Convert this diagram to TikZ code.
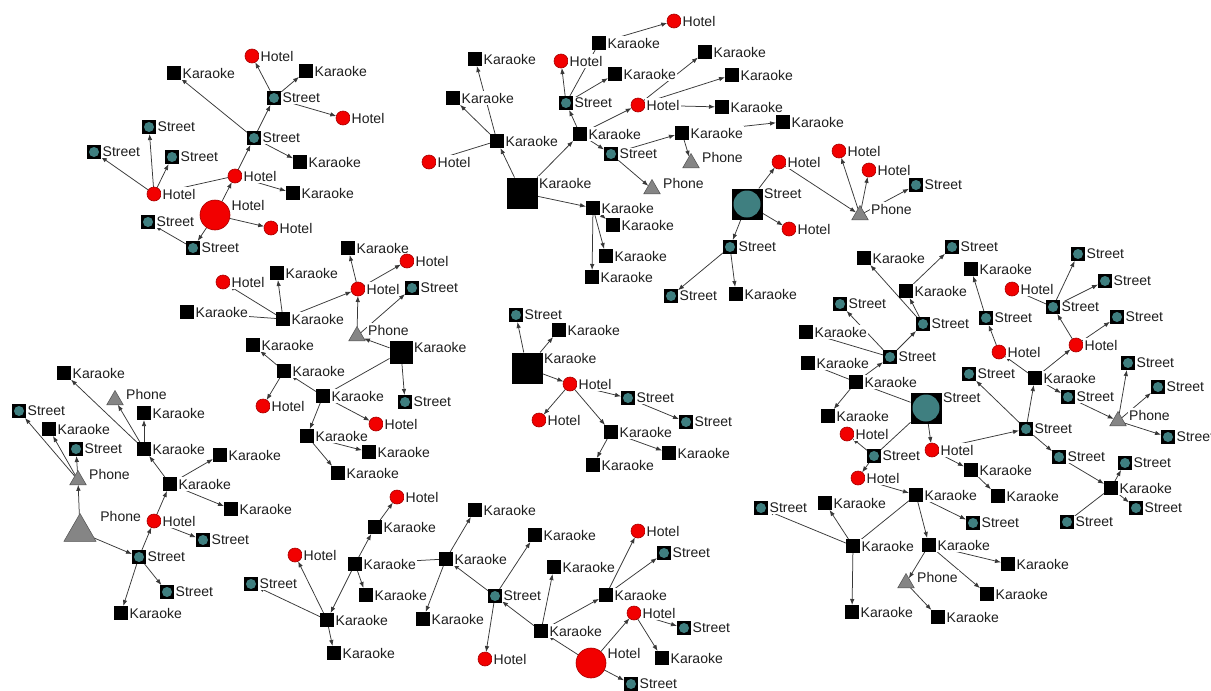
\documentclass[tikz,border=0pt]{standalone}
\usepackage{fontspec}
\newfontfamily\lblfamily{Liberation Sans}
\usetikzlibrary{shapes.geometric,arrows.meta}
\pgfdeclarelayer{paper}
\pgfdeclarelayer{wires}
\pgfsetlayers{paper,wires,main}

\definecolor{streetfill}{HTML}{3F7F80}
\definecolor{hotelfill}{HTML}{F20000}
\definecolor{hotelrim}{HTML}{A80000}
\definecolor{phonefill}{HTML}{858585}
\definecolor{phonerim}{HTML}{505050}
\definecolor{labeltext}{HTML}{1E1E1E}
\definecolor{wirecol}{HTML}{383838}

\begin{document}
\begin{tikzpicture}[x=1pt,y=-1pt,
  lbl/.style={font=\lblfamily\fontsize{14}{16}\selectfont, text=labeltext, fill=white, inner sep=1.5pt},
  % Karaoke: black square
  karsh/.style={rectangle, fill=black, inner sep=0pt, outer sep=0pt},
  kar/.style={karsh, minimum size=14pt, label={[lbl]0:Karaoke}},
  karmid/.style={karsh, minimum size=23pt, label={[lbl,yshift=5pt]0:Karaoke}},
  karbig/.style={karsh, minimum size=31pt, label={[lbl,yshift=10pt]0:Karaoke}},
  % Street: black square holding a teal disc
  strsh/.style={rectangle, fill=black, inner sep=0pt, outer sep=0pt,
    path picture={\fill[streetfill] (path picture bounding box.center) circle[radius=#1];}},
  str/.style={strsh=5pt, minimum size=14pt, label={[lbl]0:Street}},
  strbig/.style={strsh=13.5pt, minimum size=31pt, label={[lbl,yshift=10pt]0:Street}},
  % Hotel: red disc
  hotsh/.style={circle, fill=hotelfill, draw=hotelrim, line width=0.6pt, inner sep=0pt, outer sep=0pt},
  hot/.style={hotsh, minimum size=14pt, label={[lbl]0:Hotel}},
  hotbig/.style={hotsh, minimum size=30pt, label={[lbl,yshift=10pt]0:Hotel}},
  % Phone: grey triangle
  phosh/.style={regular polygon, regular polygon sides=3, fill=phonefill, draw=phonerim, line width=0.5pt, inner sep=0pt, outer sep=0pt},
  pho/.style={phosh, minimum size=19pt, label={[lbl,xshift=4pt,yshift=6pt]0:Phone}},
  phobig/.style={phosh, minimum size=37pt, label={[lbl,xshift=8pt,yshift=16pt]0:Phone}},
  arr/.style={draw=wirecol, line width=0.75pt, -{Latex[length=6pt,width=4.5pt]}},
  link/.style={draw=wirecol, line width=0.75pt}
]
\useasboundingbox (0,0) rectangle (1211,691);
\begin{pgfonlayer}{paper}
  \fill[white] (0,0) rectangle (1211,691);
\end{pgfonlayer}

% ---------- group around the large hotel (top left)
\node[hot] (a_h1) at (252,56) {};
\node[kar] (a_k1) at (174,73) {};
\node[kar] (a_k2) at (306,71) {};
\node[str] (a_s1) at (274,98) {};
\node[hot] (a_h2) at (343,118) {};
\node[str] (a_s2) at (254,138) {};
\node[str] (a_s3) at (149,127) {};
\node[str] (a_s4) at (94,152) {};
\node[str] (a_s5) at (172,157) {};
\node[kar] (a_k3) at (300,162) {};
\node[hot] (a_h3) at (235,176) {};
\node[hot] (a_h4) at (154,194) {};
\node[kar] (a_k4) at (293,193) {};
\node[hotbig] (a_hb) at (215,215) {};
\node[hot] (a_h5) at (271,228) {};
\node[str] (a_s6) at (148,222) {};
\node[str] (a_s7) at (193,248) {};

% ---------- group around the large karaoke (top middle)
\node[hot] (b_h6) at (674,21) {};
\node[kar] (b_k5) at (599,43) {};
\node[kar] (b_k6) at (475,59) {};
\node[hot] (b_h7) at (561,61) {};
\node[kar] (b_k7) at (615,74) {};
\node[kar] (b_k8) at (705,52) {};
\node[kar] (b_k9) at (732,75) {};
\node[str] (b_s8) at (566,103) {};
\node[hot] (b_h8) at (638,105) {};
\node[kar] (b_k10) at (722,107) {};
\node[kar] (b_k11) at (783,122) {};
\node[kar] (b_k12) at (453,98) {};
\node[kar] (b_k13) at (497,141) {};
\node[kar] (b_k14) at (580,134) {};
\node[hot] (b_h9) at (429,162) {};
\node[str] (b_s9) at (611,154) {};
\node[kar] (b_k15) at (682,133) {};
\node[pho] (b_p1) at (691,163) {};
\node[pho] (b_p2) at (652,189) {};
\node[karbig] (b_kb) at (522,193) {};
\node[kar] (b_k16) at (593,208) {};
\node[kar] (b_k17) at (613,225) {};
\node[kar] (b_k18) at (606,256) {};
\node[kar] (b_k19) at (592,277) {};

% ---------- group around the large street (top right)
\node[strbig] (c_sb) at (747,204) {};
\node[hot] (c_h10) at (779,162) {};
\node[hot] (c_h11) at (789,229) {};
\node[str] (c_s10) at (730,247) {};
\node[kar] (c_k20) at (736,294) {};
\node[str] (c_s12) at (671,296) {};
\node[hot] (c_h12) at (839,151) {};
\node[hot] (c_h13) at (869,170) {};
\node[pho] (c_p3) at (860,215) {};
\node[str] (c_s11) at (916,185) {};

% ---------- middle left group
\node[kar] (d_k22) at (348,248) {};
\node[hot] (d_h14) at (407,261) {};
\node[hot] (d_h15) at (358,289) {};
\node[str] (d_s13) at (412,288) {};
\node[hot] (d_h16) at (223,282) {};
\node[kar] (d_k23) at (277,273) {};
\node[kar] (d_k24) at (187,312) {};
\node[kar] (d_k25) at (283,319) {};
\node[pho] (d_p4) at (357,336) {};
\node[karmid] (d_kb) at (401,352) {};
\node[kar] (d_k26) at (253,345) {};
\node[kar] (d_k27) at (284,371) {};
\node[kar] (d_k28) at (323,396) {};
\node[hot] (d_h17) at (263,406) {};
\node[str] (d_s14) at (405,402) {};
\node[hot] (d_h18) at (376,424) {};
\node[kar] (d_k29) at (307,436) {};
\node[kar] (d_k30) at (369,452) {};
\node[kar] (d_k31) at (338,473) {};

% ---------- group around the large phone (bottom left)
\node[kar] (e_k32) at (64,373) {};
\node[pho] (e_p5) at (115,400) {};
\node[str] (e_s15) at (19,411) {};
\node[kar] (e_k33) at (144,413) {};
\node[kar] (e_k34) at (49,429) {};
\node[str] (e_s16) at (76,449) {};
\node[kar] (e_k35) at (144,449) {};
\node[kar] (e_k36) at (220,455) {};
\node[pho] (e_p6) at (78,480) {};
\node[kar] (e_k37) at (170,484) {};
\node[kar] (e_k38) at (231,509) {};
\node[hot] (e_h19) at (154,521) {};
\node[str] (e_s17) at (203,540) {};
\node[phobig] (e_pb) at (80,532) {};
\node[str] (e_s18) at (139,557) {};
\node[str] (e_s19) at (167,592) {};
\node[kar] (e_k39) at (121,613) {};

% ---------- centre group
\node[str] (f_s20) at (516,315) {};
\node[kar] (f_k40) at (559,330) {};
\node[karbig] (f_kb) at (527,368) {};
\node[hot] (f_h20) at (570,384) {};
\node[str] (f_s21) at (628,398) {};
\node[str] (f_s22) at (686,422) {};
\node[hot] (f_h21) at (539,420) {};
\node[kar] (f_k41) at (611,432) {};
\node[kar] (f_k42) at (669,453) {};
\node[kar] (f_k43) at (593,465) {};

% ---------- right group
\node[str] (g_s23) at (952,247) {};
\node[kar] (g_k44) at (864,258) {};
\node[kar] (g_k45) at (971,269) {};
\node[str] (g_s24) at (1078,254) {};
\node[str] (g_s25) at (1105,281) {};
\node[hot] (g_h22) at (1012,289) {};
\node[kar] (g_k46) at (906,291) {};
\node[str] (g_s26) at (840,304) {};
\node[str] (g_s27) at (1053,307) {};
\node[str] (g_s28) at (1117,317) {};
\node[str] (g_s29) at (923,324) {};
\node[str] (g_s30) at (986,318) {};
\node[kar] (g_k47) at (806,332) {};
\node[hot] (g_h23) at (999,352) {};
\node[hot] (g_h24) at (1076,345) {};
\node[str] (g_s31) at (890,357) {};
\node[kar] (g_k48) at (808,363) {};
\node[str] (g_s32) at (1128,363) {};
\node[str] (g_s33) at (969,374) {};
\node[kar] (g_k49) at (1035,378) {};
\node[kar] (g_k50) at (856,382) {};
\node[str] (g_s34) at (1158,387) {};
\node[str] (g_s35) at (1068,397) {};
\node[strbig] (g_sb) at (926,408) {};
\node[kar] (g_k51) at (828,416) {};
\node[pho] (g_p7) at (1118,421) {};
\node[str] (g_s36) at (1168,437) {};
\node[str] (g_s37) at (1026,429) {};
\node[hot] (g_h25) at (847,434) {};
\node[str] (g_s38) at (874,456) {};
\node[hot] (g_h26) at (932,450) {};
\node[str] (g_s39) at (1059,457) {};
\node[str] (g_s40) at (1125,463) {};
\node[kar] (g_k52) at (971,470) {};
\node[hot] (g_h27) at (858,478) {};
\node[kar] (g_k53) at (998,496) {};
\node[kar] (g_k54) at (1111,488) {};
\node[str] (g_s41) at (1136,508) {};
\node[str] (g_s42) at (1067,522) {};
\node[kar] (g_k55) at (916,495) {};
\node[str] (g_s43) at (761,508) {};
\node[kar] (g_k56) at (825,503) {};
\node[str] (g_s44) at (973,523) {};
\node[kar] (g_k57) at (853,546) {};
\node[kar] (g_k58) at (929,545) {};
\node[kar] (g_k59) at (1008,564) {};
\node[pho] (g_p8) at (906,583) {};
\node[kar] (g_k60) at (987,594) {};
\node[kar] (g_k61) at (852,612) {};
\node[kar] (g_k62) at (938,617) {};

% ---------- bottom middle group
\node[hot] (h_h28) at (397,497) {};
\node[kar] (h_k63) at (375,527) {};
\node[kar] (h_k64) at (475,510) {};
\node[hot] (h_h29) at (295,555) {};
\node[str] (h_s45) at (251,584) {};
\node[kar] (h_k65) at (355,564) {};
\node[kar] (h_k66) at (446,559) {};
\node[kar] (h_k67) at (366,595) {};
\node[str] (h_s46) at (495,596) {};
\node[kar] (h_k68) at (327,620) {};
\node[kar] (h_k69) at (423,619) {};
\node[kar] (h_k70) at (541,631) {};
\node[kar] (h_k71) at (334,653) {};
\node[hot] (h_h30) at (485,659) {};
\node[kar] (h_k72) at (535,535) {};
\node[kar] (h_k73) at (554,567) {};
\node[hot] (h_h31) at (638,531) {};
\node[str] (h_s47) at (664,553) {};
\node[kar] (h_k74) at (606,595) {};
\node[hot] (h_h32) at (634,613) {};
\node[str] (h_s48) at (684,628) {};
\node[kar] (h_k75) at (662,658) {};
\node[hotbig] (h_hb) at (591,663) {};
\node[str] (h_s49) at (631,684) {};

\begin{pgfonlayer}{wires}
% top left
\draw[arr] (a_s1) -- (a_h1);
\draw[arr] (a_s1) -- (a_k2);
\draw[arr] (a_s1) -- (a_h2);
\draw[arr] (a_s2) -- (a_k1);
\draw[arr] (a_s2) -- (a_s1);
\draw[arr] (a_s2) -- (a_k3);
\draw[arr] (a_h3) -- (a_s2);
\draw[arr] (a_h3) -- (a_k4);
\draw[link] (a_h4) -- (a_h3);
\draw[arr] (a_h4) -- (a_s4);
\draw[arr] (a_h4) -- (a_s3);
\draw[arr] (a_h4) -- (a_s5);
\draw[arr] (a_hb) -- (a_h3);
\draw[arr] (a_hb) -- (a_h5);
\draw[arr] (a_hb) -- (a_s7);
\draw[arr] (a_s7) -- (a_s6);
% top middle
\draw[arr] (b_kb) -- (b_k13);
\draw[arr] (b_kb) -- (b_k14);
\draw[arr] (b_kb) -- (b_k16);
\draw[arr] (b_k13) -- (b_k6);
\draw[arr] (b_k13) -- (b_k12);
\draw[link] (b_k13) -- (b_h9);
\draw[arr] (b_k14) -- (b_s8);
\draw[arr] (b_s8) -- (b_h7);
\draw[link] (b_k5) -- (b_s8);
\draw[arr] (b_s8) -- (b_k7);
\draw[arr] (b_k5) -- (b_h6);
\draw[arr] (b_k14) -- (b_h8);
\draw[arr] (b_h8) -- (b_k8);
\draw[arr] (b_h8) -- (b_k9);
\draw[arr] (b_h8) -- (b_k10);
\draw[arr] (b_k14) -- (b_s9);
\draw[arr] (b_s9) -- (b_p2);
\draw[arr] (b_s9) -- (b_k15);
\draw[arr] (b_k15) -- (b_p1);
\draw[arr] (b_k15) -- (b_k11);
\draw[arr] (b_k16) -- (b_k17);
\draw[arr] (b_k16) -- (b_k18);
\draw[arr] (b_k16) -- (b_k19);
% top right
\draw[arr] (c_sb) -- (c_h10);
\draw[arr] (c_sb) -- (c_h11);
\draw[arr] (c_sb) -- (c_s10);
\draw[arr] (c_h10) -- (c_p3);
\draw[arr] (c_p3) -- (c_h12);
\draw[arr] (c_p3) -- (c_h13);
\draw[arr] (c_p3) -- (c_s11);
\draw[arr] (c_s10) -- (c_k20);
\draw[arr] (c_s10) -- (c_s12);
% middle left
\draw[arr] (d_k25) -- (d_h16);
\draw[arr] (d_k25) -- (d_k23);
\draw[link] (d_k25) -- (d_k24);
\draw[arr] (d_k25) -- (d_h15);
\draw[arr] (d_h15) -- (d_k22);
\draw[arr] (d_h15) -- (d_h14);
\draw[arr] (d_p4) -- (d_h15);
\draw[arr] (d_p4) -- (d_s13);
\draw[arr] (d_kb) -- (d_p4);
\draw[arr] (d_kb) -- (d_s14);
\draw[link] (d_kb) -- (d_k28);
\draw[arr] (d_k28) -- (d_k27);
\draw[arr] (d_k27) -- (d_k26);
\draw[arr] (d_k27) -- (d_h17);
\draw[arr] (d_k28) -- (d_h18);
\draw[arr] (d_k28) -- (d_k29);
\draw[arr] (d_k29) -- (d_k30);
\draw[arr] (d_k29) -- (d_k31);
% bottom left
\draw[arr] (e_pb) -- (e_p6);
\draw[arr] (e_p6) -- (e_s16);
\draw[arr] (e_p6) -- (e_k34);
\draw[arr] (e_p6) -- (e_s15);
\draw[arr] (e_pb) -- (e_s18);
\draw[arr] (e_s18) -- (e_h19);
\draw[arr] (e_s18) -- (e_s19);
\draw[arr] (e_s18) -- (e_k39);
\draw[arr] (e_h19) -- (e_s17);
\draw[arr] (e_h19) -- (e_k37);
\draw[arr] (e_k37) -- (e_k35);
\draw[arr] (e_k37) -- (e_k36);
\draw[arr] (e_k37) -- (e_k38);
\draw[arr] (e_k35) -- (e_k33);
\draw[arr] (e_k35) -- (e_p5);
\draw[arr] (e_k35) -- (e_k32);
% centre
\draw[arr] (f_kb) -- (f_s20);
\draw[arr] (f_kb) -- (f_k40);
\draw[arr] (f_kb) -- (f_h20);
\draw[arr] (f_h20) -- (f_s21);
\draw[arr] (f_s21) -- (f_s22);
\draw[arr] (f_h20) -- (f_h21);
\draw[arr] (f_h20) -- (f_k41);
\draw[arr] (f_k41) -- (f_k42);
\draw[arr] (f_k41) -- (f_k43);
% right
\draw[arr] (g_s29) -- (g_k44);
\draw[arr] (g_s29) -- (g_k46);
\draw[arr] (g_k46) -- (g_s23);
\draw[arr] (g_s31) -- (g_s29);
\draw[arr] (g_s31) -- (g_s26);
\draw[arr] (g_s31) -- (g_k47);
\draw[arr] (g_k50) -- (g_s31);
\draw[arr] (g_k50) -- (g_k48);
\draw[arr] (g_k50) -- (g_k51);
\draw[arr] (g_sb) -- (g_k50);
\draw[arr] (g_sb) -- (g_h26);
\draw[link] (g_sb) -- (g_s38);
\draw[arr] (g_s38) -- (g_h25);
\draw[arr] (g_s38) -- (g_h27);
\draw[arr] (g_h26) -- (g_k52);
\draw[arr] (g_h26) -- (g_s37);
\draw[arr] (g_s37) -- (g_s33);
\draw[arr] (g_s37) -- (g_k49);
\draw[arr] (g_s37) -- (g_s39);
\draw[arr] (g_k49) -- (g_s35);
\draw[arr] (g_k49) -- (g_h24);
\draw[arr] (g_k49) -- (g_h23);
\draw[arr] (g_h23) -- (g_s30);
\draw[arr] (g_s30) -- (g_k45);
\draw[arr] (g_h24) -- (g_s27);
\draw[arr] (g_h24) -- (g_s28);
\draw[arr] (g_s27) -- (g_h22);
\draw[arr] (g_s27) -- (g_s24);
\draw[arr] (g_s27) -- (g_s25);
\draw[arr] (g_s35) -- (g_p7);
\draw[arr] (g_p7) -- (g_s32);
\draw[arr] (g_p7) -- (g_s34);
\draw[arr] (g_p7) -- (g_s36);
\draw[arr] (g_s39) -- (g_k54);
\draw[arr] (g_k54) -- (g_s40);
\draw[arr] (g_k54) -- (g_s41);
\draw[link] (g_k54) -- (g_s42);
\draw[arr] (g_k52) -- (g_k53);
\draw[arr] (g_h27) -- (g_k55);
\draw[arr] (g_k55) -- (g_s44);
\draw[arr] (g_k55) -- (g_k58);
\draw[link] (g_k55) -- (g_k57);
\draw[arr] (g_k57) -- (g_s43);
\draw[arr] (g_k57) -- (g_k56);
\draw[arr] (g_k57) -- (g_k61);
\draw[arr] (g_k58) -- (g_p8);
\draw[arr] (g_k58) -- (g_k59);
\draw[arr] (g_k58) -- (g_k60);
\draw[arr] (g_p8) -- (g_k62);
% bottom middle
\draw[arr] (h_k68) -- (h_s45);
\draw[arr] (h_k68) -- (h_h29);
\draw[arr] (h_k68) -- (h_k71);
\draw[arr] (h_k65) -- (h_k68);
\draw[arr] (h_k65) -- (h_k63);
\draw[arr] (h_k63) -- (h_h28);
\draw[arr] (h_k65) -- (h_k67);
\draw[link] (h_k65) -- (h_k66);
\draw[arr] (h_k66) -- (h_k64);
\draw[arr] (h_k66) -- (h_k69);
\draw[arr] (h_s46) -- (h_k66);
\draw[arr] (h_s46) -- (h_k72);
\draw[arr] (h_s46) -- (h_h30);
\draw[arr] (h_k70) -- (h_s46);
\draw[arr] (h_k70) -- (h_k73);
\draw[arr] (h_hb) -- (h_k70);
\draw[arr] (h_hb) -- (h_h32);
\draw[arr] (h_hb) -- (h_s49);
\draw[arr] (h_k70) -- (h_k74);
\draw[arr] (h_k74) -- (h_h31);
\draw[arr] (h_k74) -- (h_s47);
\draw[arr] (h_h32) -- (h_s48);
\draw[arr] (h_h32) -- (h_k75);
\end{pgfonlayer}
\end{tikzpicture}
\end{document}
